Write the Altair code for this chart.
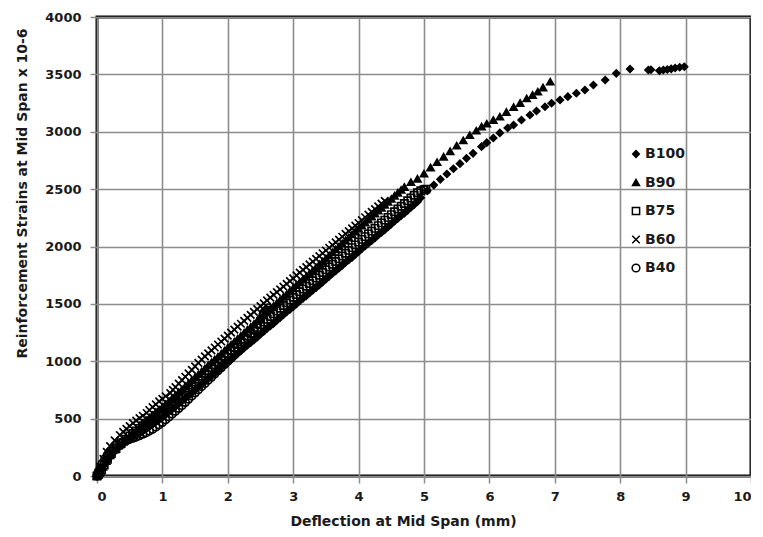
import altair as alt
import pandas as pd

series_names = ["B100", "B90", "B75", "B60", "B40"]

b100_x = [0.00, 0.01, 0.03, 0.05, 0.08, 0.12, 0.17, 0.23, 0.30, 0.38, 0.46,
          0.50, 0.55, 0.60, 0.65, 0.70, 0.75, 0.80, 0.85, 0.90, 0.95, 1.00, 1.05, 1.10, 1.15, 1.20, 1.25,
          1.30, 1.35, 1.40, 1.45, 1.50, 1.55, 1.60, 1.65, 1.70, 1.75, 1.80, 1.85, 1.90, 1.95, 2.00, 2.05,
          2.10, 2.15, 2.20, 2.25, 2.30, 2.35, 2.40, 2.45, 2.50, 2.55, 2.60, 2.65, 2.70, 2.75, 2.80, 2.85,
          2.90, 2.95, 3.00, 3.05, 3.10, 3.15, 3.20, 3.25, 3.30, 3.35, 3.40, 3.45, 3.50, 3.55, 3.60, 3.65,
          3.70, 3.75, 3.80, 3.85, 3.90, 3.95, 4.00, 4.05, 4.10, 4.15, 4.20, 4.25, 4.30, 4.35, 4.40, 4.45,
          4.50, 4.55, 4.60, 4.65, 4.70, 4.75, 4.80, 4.85, 4.90, 4.95, 5.05, 5.15, 5.25,
          5.35, 5.45, 5.55, 5.65, 5.75, 5.88, 5.96, 6.06, 6.16, 6.28,
          6.37, 6.49, 6.62, 6.72, 6.85, 6.95, 7.08, 7.20, 7.33, 7.46, 7.59, 7.77, 7.94, 8.15, 8.43, 8.47,
          8.60, 8.66, 8.72, 8.78, 8.84, 8.91, 8.98]
b100_y = [0, 8, 20, 38, 62, 100, 145, 190, 230, 265, 300,
          318, 335, 352, 371, 390, 410, 430, 450, 470, 490, 510, 535, 560, 582, 605, 630,
          655, 678, 700, 725, 750, 775, 800, 825, 850, 872, 895, 920, 945, 968, 990, 1015,
          1040, 1065, 1090, 1115, 1140, 1162, 1185, 1210, 1235, 1260, 1285, 1308, 1330, 1355, 1380, 1405,
          1430, 1452, 1475, 1500, 1525, 1548, 1570, 1595, 1620, 1642, 1665, 1690, 1715, 1740, 1765, 1788,
          1810, 1835, 1860, 1882, 1905, 1930, 1955, 1980, 2005, 2028, 2050, 2075, 2100, 2122, 2145, 2170,
          2195, 2220, 2245, 2268, 2290, 2315, 2340, 2365, 2390, 2425, 2485, 2535, 2585,
          2632, 2678, 2722, 2768, 2812, 2870, 2905, 2945, 2990, 3033,
          3059, 3102, 3146, 3181, 3218, 3248, 3277, 3306, 3335, 3364, 3407, 3451, 3509, 3547, 3538, 3540,
          3532, 3538, 3542, 3548, 3555, 3562, 3567]

b90_x = [0.00, 0.02, 0.05, 0.09, 0.14, 0.20, 0.27, 0.35, 0.44,
         0.50, 0.55, 0.60, 0.65, 0.70, 0.75, 0.80, 0.85, 0.90, 0.95, 1.00, 1.05, 1.10, 1.15, 1.20, 1.25,
         1.30, 1.35, 1.40, 1.45, 1.50, 1.55, 1.60, 1.65, 1.70, 1.75, 1.80, 1.85, 1.90, 1.95, 2.00, 2.05,
         2.10, 2.15, 2.20, 2.25, 2.30, 2.35, 2.40, 2.45, 2.50, 2.55, 2.60, 2.65, 2.70, 2.75, 2.80, 2.85,
         2.90, 2.95, 3.00, 3.05, 3.10, 3.15, 3.20, 3.25, 3.30, 3.35, 3.40, 3.45, 3.50, 3.55, 3.60, 3.65,
         3.70, 3.75, 3.80, 3.85, 3.90, 3.95, 4.00, 4.05, 4.10, 4.15, 4.20, 4.25, 4.30, 4.35, 4.40, 4.45,
         4.50, 4.55, 4.60, 4.65, 4.70, 4.80, 4.90, 5.00, 5.10, 5.20, 5.30, 5.40, 5.50, 5.60, 5.70, 5.80,
         5.88, 5.96, 6.06, 6.16, 6.26, 6.37, 6.47, 6.57, 6.66, 6.74, 6.82, 6.93]
b90_y = [0, 15, 40, 80, 130, 180, 230, 275, 320,
         350, 375, 400, 425, 455, 480, 505, 530, 555, 578, 600, 626, 650, 678, 705, 730,
         755, 782, 808, 834, 860, 885, 910, 938, 965, 990, 1015, 1040, 1065, 1092, 1120, 1145,
         1170, 1196, 1222, 1248, 1275, 1300, 1325, 1352, 1380, 1405, 1430, 1456, 1482, 1508, 1535, 1560,
         1585, 1612, 1638, 1664, 1690, 1715, 1740, 1766, 1792, 1818, 1845, 1870, 1895, 1922, 1948, 1974,
         2000, 2026, 2052, 2078, 2105, 2130, 2155, 2182, 2208, 2234, 2260, 2286, 2312, 2337, 2362, 2388,
         2415, 2442, 2468, 2493, 2518, 2560, 2590, 2635, 2688, 2735, 2782, 2830, 2878, 2925, 2970, 3010,
         3045, 3070, 3102, 3131, 3172, 3215, 3250, 3290, 3320, 3349, 3385, 3436]

b75_x = [0.00, 0.02, 0.04, 0.07, 0.11, 0.16, 0.22, 0.29, 0.37, 0.44,
         0.50, 0.55, 0.60, 0.65, 0.70, 0.75, 0.80, 0.85, 0.90, 0.95, 1.00, 1.05, 1.10, 1.15, 1.20, 1.25,
         1.30, 1.35, 1.40, 1.45, 1.50, 1.55, 1.60, 1.65, 1.70, 1.75, 1.80, 1.85, 1.90, 1.95, 2.00, 2.05,
         2.10, 2.15, 2.20, 2.25, 2.30, 2.35, 2.40, 2.45, 2.50, 2.55, 2.60, 2.65, 2.70, 2.75, 2.80, 2.85,
         2.90, 2.95, 3.00, 3.05, 3.10, 3.15, 3.20, 3.25, 3.30, 3.35, 3.40, 3.45, 3.50, 3.55, 3.60, 3.65,
         3.70, 3.75, 3.80, 3.85, 3.90, 3.95, 4.00, 4.05, 4.10, 4.15, 4.20, 4.25, 4.30, 4.35, 4.40, 4.45,
         4.50, 4.55, 4.60, 4.65, 4.70, 4.75, 4.80, 4.85, 4.90, 4.95, 5.00, 5.03]
b75_y = [0, 12, 30, 55, 95, 145, 195, 240, 285, 320,
         348, 370, 392, 415, 438, 460, 482, 505, 528, 550, 572, 595, 620, 645, 670, 695,
         720, 745, 770, 795, 820, 845, 870, 895, 920, 945, 970, 995, 1020, 1045, 1070, 1095,
         1120, 1145, 1170, 1195, 1220, 1245, 1270, 1295, 1318, 1342, 1366, 1390, 1414, 1438, 1462, 1486,
         1510, 1534, 1558, 1582, 1606, 1630, 1654, 1678, 1702, 1726, 1750, 1774, 1798, 1822, 1846, 1870,
         1894, 1918, 1942, 1966, 1990, 2014, 2038, 2062, 2086, 2110, 2134, 2158, 2182, 2206, 2230, 2254,
         2278, 2302, 2326, 2350, 2374, 2398, 2422, 2446, 2468, 2485, 2495, 2500]

b60_x = [0.00, 0.02, 0.05, 0.10, 0.15, 0.20, 0.27, 0.35, 0.40, 0.45, 0.50, 0.55, 0.60, 0.65, 0.70,
         0.76, 0.80, 0.85, 0.90, 0.95, 1.00, 1.05, 1.12, 1.16, 1.20, 1.25, 1.30, 1.35, 1.40, 1.45, 1.50,
         1.55, 1.60, 1.65, 1.70, 1.75, 1.80, 1.85, 1.90, 1.95, 2.00, 2.05, 2.10, 2.15, 2.20, 2.25, 2.30,
         2.35, 2.40, 2.45, 2.50, 2.55, 2.60, 2.65, 2.70, 2.75, 2.80, 2.85, 2.90, 2.95, 3.00, 3.05, 3.10,
         3.15, 3.20, 3.25, 3.30, 3.35, 3.40, 3.45, 3.50, 3.55, 3.60, 3.65, 3.70, 3.75, 3.80, 3.85, 3.90,
         3.95, 4.00, 4.05, 4.10, 4.15, 4.20, 4.25, 4.30, 4.35, 4.40]
b60_y = [0, 30, 80, 150, 210, 260, 310, 357, 385, 410, 435, 460, 482, 505, 525,
         549, 575, 600, 625, 650, 672, 695, 723, 750, 775, 805, 835, 865, 895, 925, 955,
         985, 1015, 1042, 1068, 1094, 1120, 1146, 1172, 1198, 1224, 1250, 1275, 1301, 1327, 1352, 1378,
         1404, 1430, 1455, 1480, 1505, 1530, 1554, 1578, 1602, 1627, 1651, 1675, 1699, 1723, 1748, 1772,
         1796, 1820, 1844, 1868, 1892, 1917, 1941, 1965, 1989, 2013, 2036, 2060, 2085, 2110, 2134, 2158,
         2182, 2205, 2230, 2255, 2278, 2302, 2326, 2350, 2374, 2398]

b40_x = [0.00, 0.02, 0.05, 0.08, 0.12, 0.16, 0.20, 0.25, 0.30, 0.35, 0.40, 0.45, 0.50, 0.55, 0.60,
         0.65, 0.70, 0.75, 0.80, 0.85, 0.90, 0.95, 1.00, 1.05, 1.10, 1.15, 1.20, 1.25, 1.30, 1.35, 1.40,
         1.45, 1.50, 1.55, 1.60, 1.65, 1.70, 1.75, 1.80, 1.85, 1.90, 1.95, 2.00, 2.05, 2.10, 2.15, 2.20,
         2.25, 2.30, 2.35, 2.40, 2.45, 2.50, 2.54, 2.58, 2.62, 2.60, 2.56]
b40_y = [0, 25, 70, 110, 150, 185, 215, 245, 270, 287, 300, 311, 320, 330, 340,
         352, 365, 377, 392, 408, 427, 447, 468, 490, 515, 540, 565, 590, 615, 642, 670,
         697, 725, 752, 780, 807, 835, 862, 890, 917, 945, 972, 1000, 1028, 1058, 1090, 1124,
         1160, 1198, 1238, 1280, 1322, 1365, 1405, 1440, 1465, 1445, 1428]

rows = []
for name, xs, ys in [("B40", b40_x, b40_y), ("B60", b60_x, b60_y), ("B75", b75_x, b75_y),
                     ("B90", b90_x, b90_y), ("B100", b100_x, b100_y)]:
    for xv, yv in zip(xs, ys):
        rows.append({"series": name, "x": xv, "y": yv})
df = pd.DataFrame(rows)

FONT = "DejaVu Sans"
TXT = "#1a1a1a"
cross = "M-1,-1L1,1M-1,1L1,-1"

leg = dict(title=None, orient="none", legendX=532, legendY=130)

chart = alt.Chart(df).mark_point(strokeWidth=1.7, opacity=1).encode(
    x=alt.X("x:Q", scale=alt.Scale(domain=[0, 10], nice=False),
            axis=alt.Axis(values=list(range(0, 11)), format="d", title="Deflection at Mid Span (mm)",
                          titleX=306, titleY=45, titleBaseline="middle", titleAlign="center")),
    y=alt.Y("y:Q", scale=alt.Scale(domain=[0, 4000], nice=False),
            axis=alt.Axis(values=list(range(0, 4001, 500)), format="d",
                          title="Reinforcement Strains at Mid Span  x 10-6",
                          titleX=-75, titleY=176, titleAngle=270, titleBaseline="middle",
                          titleAlign="center")),
    shape=alt.Shape("series:N", scale=alt.Scale(domain=series_names,
                    range=["diamond", "triangle-up", "square", cross, "circle"]),
                    legend=alt.Legend(**leg)),
    fill=alt.Fill("series:N", scale=alt.Scale(domain=series_names,
                  range=["black", "black", "transparent", "transparent", "transparent"]),
                  legend=alt.Legend(**leg)),
    stroke=alt.Stroke("series:N", scale=alt.Scale(domain=series_names,
                      range=["black", "black", "black", "black", "black"]),
                      legend=alt.Legend(**leg)),
    size=alt.Size("series:N", scale=alt.Scale(domain=series_names, range=[45, 60, 42, 55, 100]),
                  legend=alt.Legend(**leg)),
).properties(
    width=654, height=459,
    autosize=alt.AutoSizeParams(type="none"),
    padding={"left": 89, "top": 9, "right": 0, "bottom": 53},
).configure_view(
    stroke="black", strokeWidth=3
).configure_axis(
    grid=True, gridColor="#8c8c8c", gridWidth=1.6,
    domain=False, tickColor="#8c8c8c", tickSize=7, tickWidth=1.5,
    labelFont=FONT, labelFontSize=13, labelFontWeight="bold", labelColor=TXT,
    titleFont=FONT, titleFontSize=14, titleFontWeight="bold", titleColor=TXT,
).configure_axisX(
    labelPadding=7
).configure_axisY(
    labelPadding=9
).configure_legend(
    labelFont=FONT, labelFontSize=14, labelFontWeight="bold", labelColor=TXT,
    rowPadding=14.5, symbolStrokeWidth=1.5, labelOffset=2
)

chart.save("out.html", embed_options={"renderer": "svg", "actions": False})
